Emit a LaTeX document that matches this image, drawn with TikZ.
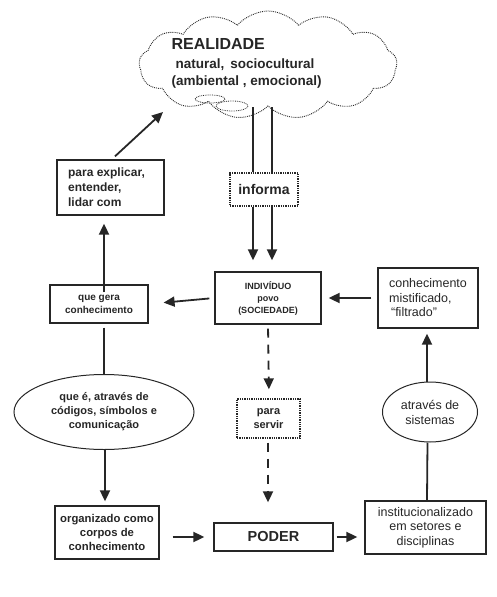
\documentclass[tikz,border=0pt]{standalone}
\usepackage{fontspec}
\setmainfont{Liberation Sans}
\usetikzlibrary{arrows.meta,shapes.geometric,shapes.symbols,calc}
\definecolor{ink}{HTML}{262626}
\tikzset{
  box/.style={draw=ink,line width=1.3pt,inner sep=0pt,align=center,text=ink},
  dotbox/.style={draw=ink,line width=1.3pt,densely dotted,inner sep=0pt,align=center,text=ink},
  oval/.style={draw=ink,line width=1pt,ellipse,inner sep=0pt,align=center,text=ink},
  arr/.style={draw=ink,line width=1.8pt,-{Triangle[length=11pt,width=10pt]}},
  plain/.style={draw=ink,line width=1.8pt},
  darr/.style={draw=ink,line width=1.8pt,dash pattern=on 9pt off 7pt,-{Triangle[length=11pt,width=10pt]}},
}
\begin{document}
\begin{tikzpicture}[x=1pt,y=-1pt]
\useasboundingbox (0,0) rectangle (496,597);
% cloud
\node[cloud,draw=ink,densely dotted,line width=0.9pt,cloud puffs=13,cloud puff arc=100,aspect=2.4,minimum width=258pt,minimum height=108pt] (cloud) at (268,65) {};
\draw[ink,densely dotted,line width=0.8pt] (210,99) ellipse [x radius=15, y radius=4];
\draw[ink,densely dotted,line width=0.8pt] (232,106) ellipse [x radius=16, y radius=5];
\node[anchor=west,text=ink,font=\bfseries\fontsize{16}{18}\selectfont] (real) at (168,44) {REALIDADE};
\node[anchor=west,text=ink,font=\bfseries\fontsize{13.5}{16}\selectfont] (nat) at (172,65) {natural,\, sociocultural};
\node[anchor=west,text=ink,font=\bfseries\fontsize{13.5}{16}\selectfont] (amb) at (168,82) {(ambiental , emocional)};
\coordinate (cloudin) at (163,112);

% boxes
\node[box,minimum width=107pt,minimum height=55pt,align=left,font=\bfseries\fontsize{12}{15}\selectfont] (expl) at (110.5,187.5) {para explicar,\hspace*{8pt}\\entender,\\lidar com};
\node[dotbox,minimum width=68pt,minimum height=33pt,font=\bfseries\fontsize{14}{16}\selectfont] (informa) at (264,189.5) {informa};
\node[box,minimum width=106pt,minimum height=52pt,font=\bfseries\fontsize{9}{12}\selectfont] (indiv) at (268,298) {INDIVÍDUO\\povo\\(SOCIEDADE)};
\node[box,minimum width=100pt,minimum height=60pt,align=left,font=\fontsize{12.5}{14.5}\selectfont] (mist) at (428,298) {conhecimento\\mistificado,\\\hspace*{2pt}``filtrado''};
\node[box,minimum width=98pt,minimum height=38pt,font=\bfseries\fontsize{10}{13}\selectfont] (gera) at (99,304) {que gera\\conhecimento};
\node[oval,minimum width=180pt,minimum height=75pt,font=\bfseries\fontsize{11}{14}\selectfont] (ell1) at (104,412) {que é, através de\\códigos, símbolos e\\comunicação};
\node[oval,minimum width=95pt,minimum height=60pt,font=\fontsize{12.5}{15}\selectfont] (ell2) at (430,412) {através de\\sistemas};
\node[dotbox,minimum width=63pt,minimum height=39pt,font=\bfseries\fontsize{11}{14}\selectfont] (servir) at (268.5,418.5) {para\\servir};
\node[box,minimum width=104pt,minimum height=53pt,font=\bfseries\fontsize{11.3}{14}\selectfont] (org) at (107,532.5) {organizado como\\corpos de\\conhecimento};
\node[box,minimum width=119pt,minimum height=28pt,font=\bfseries\fontsize{14.5}{16}\selectfont] (poder) at (273.5,537) {PODER};
\node[box,minimum width=121pt,minimum height=53pt,font=\fontsize{12.5}{14.5}\selectfont] (inst) at (425.5,527.5) {institucionalizado\\em setores e\\disciplinas};

% connectors
\draw[arr] ([xshift=4.5pt,yshift=3pt]expl.north) -- (cloudin);
\draw[plain] ([xshift=-11pt]informa.north) -- ([xshift=-11pt]informa.north |- cloud.south);
\draw[plain] ([xshift=8pt]informa.north) -- ([xshift=8pt]informa.north |- cloud.south);
\draw[arr,shorten >=11pt] ([xshift=-11pt]informa.south) -- ([xshift=-15pt]indiv.north);
\draw[arr,shorten >=11pt] ([xshift=8pt]informa.south) -- ([xshift=4pt]indiv.north);
\draw[arr,shorten <=6pt,shorten >=7pt] (mist.west) -- (indiv.east);
\draw[arr,shorten <=5pt,shorten >=15pt] (indiv.west) -- (gera.east);
\draw[arr,shorten <=-8pt,shorten >=8pt] ([xshift=5pt]gera.north) -- ([xshift=-6.5pt]expl.south);
\draw[plain,shorten <=4pt] ([xshift=5pt]gera.south) -- (ell1.north);
\draw[arr,shorten >=4pt] ([xshift=1pt]ell1.south) -- ([xshift=-2pt]org.north);
\draw[arr,shorten <=13pt,shorten >=9pt] (org.east |- poder.west) -- (poder.west);
\draw[arr,shorten <=3pt,shorten >=7pt] (poder.east) -- (inst.west |- poder.east);
\draw[plain] ([xshift=1.5pt]inst.north) -- ([xshift=-2.5pt]ell2.south);
\draw[arr,shorten >=5pt] ([xshift=-3pt]ell2.north) -- ([xshift=-1pt]mist.south);
\draw[darr,shorten <=4pt,shorten >=9pt] (indiv.south) -- ([xshift=0.5pt]servir.north);
\draw[darr,shorten <=4pt,shorten >=20pt] ([xshift=-0.5pt]servir.south) -- ([xshift=-5.5pt]poder.north);
\end{tikzpicture}
\end{document}
